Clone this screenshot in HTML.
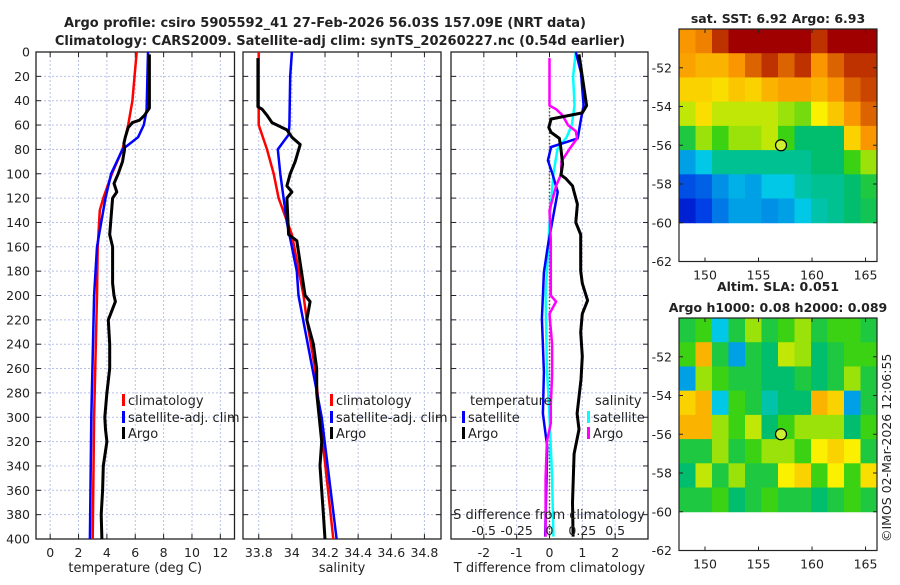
<!DOCTYPE html>
<html><head><meta charset="utf-8"><style>
body{margin:0;background:#fff}
svg text{font-family:"DejaVu Sans","Liberation Sans",sans-serif;fill:#222}
</style></head><body>
<svg id="c" width="900" height="580" xmlns="http://www.w3.org/2000/svg"></svg>
<script>
// ---- data ----
const tClimD=[0,40,60,80,100,120,130,140,160,200,300,400];
const tClimV=[6.1,5.8,5.5,5.1,4.35,3.75,3.5,3.45,3.35,3.3,3.1,3.0];
const tSatD=[0,48,60,70,80,100,120,140,160,200,300,400];
const tSatV=[6.9,6.8,6.6,6.2,5.1,4.3,3.9,3.6,3.3,3.1,2.9,2.8];
const tArgoD=[2,46,52,56,58,62,70,75,80,90,100,108,115,120,150,160,190,200,205,220,240,260,280,300,310,320,340,360,380,400];
const tArgoV=[7.0,7.0,6.65,6.3,5.8,5.5,5.3,5.2,5.25,5.1,4.8,4.5,4.7,4.4,4.2,4.4,4.4,4.5,4.6,4.1,4.2,4.2,4.0,3.85,3.9,4.0,3.75,3.7,3.6,3.65];
const sClimD=[0,60,80,100,120,150,200,220,260,300,350,400];
const sClimV=[33.8,33.8,33.85,33.89,33.92,34.0,34.07,34.09,34.14,34.17,34.21,34.25];
const sSatD=[0,20,60,68,80,100,140,180,200,300,400];
const sSatV=[34.0,33.99,33.985,33.98,33.915,33.93,33.97,34.03,34.04,34.18,34.27];
const sArgoD=[5,45,47,52,58,64,70,76,90,100,110,115,120,150,155,200,205,220,240,260,280,320,340,380,400];
const sArgoV=[33.795,33.795,33.82,33.85,33.88,33.97,34.0,34.05,34.02,33.99,33.97,34.0,33.97,33.98,34.03,34.08,34.11,34.09,34.13,34.15,34.15,34.18,34.17,34.19,34.2];
const dTSatD=[0,17,44,55,71,78,89,101,115,131,159,181,219,263,297,324,398];
const dTSatV=[0.8,0.96,1.04,0.96,0.86,0.05,-0.05,0.1,0.25,0.14,-0.05,-0.17,-0.23,-0.17,-0.2,-0.07,-0.13];
const dTArgoD=[2,44,50,55,62,66,71,80,92,101,104,110,115,125,140,150,165,180,190,204,215,230,250,269,297,310,330,370,398];
const dTArgoV=[0.9,1.13,1.0,0.05,-0.02,0.05,0.3,0.35,0.4,0.35,0.5,0.7,0.75,0.85,0.8,0.95,0.95,0.95,1.0,1.16,1.0,0.95,1.0,0.96,0.84,0.9,0.75,0.7,0.72];
const dSArgoD=[5,44,47,52,60,65,71,80,90,100,110,130,155,200,205,215,240,265,290,305,320,350,398];
const dSArgoV=[0,0,0.05,0.1,0.14,0.2,0.21,0.15,0.09,0.09,0.05,0,0.01,0.01,0.05,0,0.02,0.02,0.01,0.01,-0.02,-0.03,-0.03];
const dSSatD=[0,20,44,60,70,80,100,140,160,200,260,300,350,398];
const dSSatV=[0.2,0.18,0.19,0.17,0.13,0.06,0.03,0,-0.01,-0.03,-0.02,0,0.02,0.03];
const depthTicks=[0,20,40,60,80,100,120,140,160,180,200,220,240,260,280,300,320,340,360,380,400];
const tTicks=[0,2,4,6,8,10,12];
const sTicks=[33.8,34,34.2,34.4,34.6,34.8];
const dTTicks=[-2,-1,0,1,2];
const dSTicks=[-0.5,-0.25,0,0.25,0.5];
const lonTicks=[150,155,160,165];
const latTicks=[-52,-54,-56,-58,-60,-62];
const sstGrid=[
[0.8,0.82,0.9,0.95,0.95,0.95,0.95,0.95,0.9,0.95,0.95,0.95],
[0.78,0.75,0.75,0.8,0.85,0.9,0.85,0.9,0.8,0.85,0.9,0.9],
[0.7,0.7,0.68,0.72,0.7,0.75,0.78,0.78,0.75,0.8,0.85,0.88],
[0.62,0.68,0.62,0.62,0.62,0.62,0.6,0.58,0.65,0.72,0.8,0.85],
[0.5,0.6,0.55,0.6,0.6,0.62,0.55,0.45,0.45,0.45,0.7,0.8],
[0.3,0.35,0.42,0.42,0.42,0.42,0.42,0.42,0.45,0.45,0.55,0.6],
[0.2,0.22,0.28,0.32,0.3,0.35,0.35,0.4,0.42,0.42,0.45,0.5],
[0.12,0.18,0.25,0.3,0.3,0.28,0.3,0.35,0.4,0.42,0.45,0.48]];
const slaGrid=[
[0.5,0.55,0.35,0.5,0.6,0.5,0.55,0.6,0.5,0.55,0.55,0.5],
[0.55,0.75,0.5,0.3,0.5,0.45,0.62,0.6,0.45,0.5,0.55,0.55],
[0.3,0.6,0.55,0.5,0.5,0.45,0.45,0.5,0.45,0.5,0.6,0.5],
[0.7,0.75,0.35,0.55,0.5,0.4,0.45,0.45,0.75,0.7,0.3,0.5],
[0.75,0.75,0.6,0.55,0.62,0.45,0.55,0.6,0.6,0.6,0.45,0.55],
[0.5,0.5,0.6,0.5,0.55,0.6,0.6,0.55,0.65,0.7,0.65,0.5],
[0.45,0.62,0.5,0.6,0.5,0.5,0.65,0.7,0.55,0.65,0.55,0.68],
[0.5,0.5,0.55,0.45,0.5,0.55,0.5,0.5,0.45,0.5,0.55,0.5]];
const argoLon=157.1, argoLat=-56.0;

// ---- helpers ----
const svg=document.getElementById('c');const NS='http://www.w3.org/2000/svg';
function mk(tag,attrs,parent){const e=document.createElementNS(NS,tag);for(const k in attrs)e.setAttribute(k,attrs[k]);(parent||svg).appendChild(e);return e;}
function txt(s,x,y,attrs){const e=mk('text',Object.assign({x:x,y:y},attrs||{}));e.textContent=s;return e;}
const Y0=52,Y1=539;
const yD=d=>Y0+d*(Y1-Y0)/400;
function lin(d0,d1,r0,r1){return v=>r0+(v-d0)*(r1-r0)/(d1-d0);}

function panel(name,x0,x1,xs,ticks,fmt,label){
  const g=mk('g',{});
  ticks.forEach(t=>{mk('line',{x1:xs(t),x2:xs(t),y1:Y0,y2:Y1,stroke:'#b8c0e8','stroke-dasharray':'2,2','stroke-width':1},g);});
  depthTicks.forEach(d=>{mk('line',{x1:x0,x2:x1,y1:yD(d),y2:yD(d),stroke:'#b8c0e8','stroke-dasharray':'2,2','stroke-width':1},g);
    mk('line',{x1:x0,x2:x0+5,y1:yD(d),y2:yD(d),stroke:'#222'},g);mk('line',{x1:x1-5,x2:x1,y1:yD(d),y2:yD(d),stroke:'#222'},g);});
  ticks.forEach(t=>{mk('line',{x1:xs(t),x2:xs(t),y1:Y1,y2:Y1-5,stroke:'#222'},g);mk('line',{x1:xs(t),x2:xs(t),y1:Y0,y2:Y0+5,stroke:'#222'},g);
    if(fmt){const e=txt(fmt(t),xs(t),557,{'font-size':12.5,'text-anchor':'middle'});g.appendChild(e);}});
  mk('rect',{x:x0,y:Y0,width:x1-x0,height:Y1-Y0,fill:'none',stroke:'#222','stroke-width':1.3},g);
  if(label){const e=txt(label,(x0+x1)/2,572,{'font-size':13,'text-anchor':'middle'});g.appendChild(e);}
  return g;
}
function line(name,D,V,xs,color,w,g){
  const p=D.map((d,i)=>xs(V[i]).toFixed(1)+','+yD(d).toFixed(1)).join(' ');
  const e=mk('polyline',{points:p,fill:'none',stroke:color,'stroke-width':w,'stroke-linejoin':'round'},g);
  
}
function legendItem(x,y,color,label,g){
  mk('rect',{x:x,y:y-11,width:3,height:12,fill:color},g);
  const e=txt(label,x+6,y,{'font-size':13});g.appendChild(e);
}

// titles
let t=txt('Argo profile: csiro 5905592_41 27-Feb-2026 56.03S 157.09E (NRT data)',325,27,{'font-size':13,'font-weight':'bold','text-anchor':'middle'});

t=txt('Climatology: CARS2009. Satellite-adj clim: synTS_20260227.nc (0.54d earlier)',340,45,{'font-size':13,'font-weight':'bold','text-anchor':'middle'});


// depth tick labels
depthTicks.forEach(d=>{const e=txt(String(d),30,yD(d)+4.5,{'font-size':12.5,'text-anchor':'end'});});

// panel 1 temperature
const xT=lin(-1,13,36,234.5);
let g1=panel('temperature-panel',36,234.5,xT,tTicks,v=>String(v),'temperature (deg C)');
line('temp-climatology-line',tClimD,tClimV,xT,'#f00',2.5,g1);
line('temp-satellite-line',tSatD,tSatV,xT,'#00f',2.5,g1);
line('temp-argo-line',tArgoD,tArgoV,xT,'#000',3,g1);
legendItem(122,405,'#f00','climatology',g1);legendItem(122,422,'#00f','satellite-adj. clim',g1);legendItem(122,438,'#000','Argo',g1);

// panel 2 salinity
const xS=lin(33.705,34.9,243,441);
let g2=panel('salinity-panel',243,441,xS,sTicks,v=>String(v),'salinity');
line('sal-climatology-line',sClimD,sClimV,xS,'#f00',2.5,g2);
line('sal-satellite-line',sSatD,sSatV,xS,'#00f',2.5,g2);
line('sal-argo-line',sArgoD,sArgoV,xS,'#000',3,g2);
legendItem(330,405,'#f00','climatology',g2);legendItem(330,422,'#00f','satellite-adj. clim',g2);legendItem(330,438,'#000','Argo',g2);

// panel 3 differences
const xDT=lin(-3,3,451,648);const xDS=lin(-0.75,0.75,451,648);
let g3=panel('difference-panel',451,648,xDT,dTTicks,v=>String(v),'T difference from climatology');
mk('line',{x1:xDT(0),x2:xDT(0),y1:yD(40),y2:Y1,stroke:'#445533','stroke-dasharray':'1.5,2','stroke-width':1.5},g3);
line('sdiff-satellite-line',dSSatD,dSSatV,xDS,'#0ff',2.5,g3);
line('tdiff-satellite-line',dTSatD,dTSatV,xDT,'#00f',2.5,g3);
line('sdiff-argo-line',dSArgoD,dSArgoV,xDS,'#f0f',2.5,g3);
line('tdiff-argo-line',dTArgoD,dTArgoV,xDT,'#000',3,g3);
t=txt('S difference from climatology',549,519,{'font-size':13,'text-anchor':'middle'});
dSTicks.forEach(v=>{const e=txt(String(v),xDS(v),535,{'font-size':12.5,'text-anchor':'middle'});});
t=txt('temperature',470,405,{'font-size':13});
t=txt('salinity',595,405,{'font-size':13});
legendItem(462,422,'#00f','satellite',g3);legendItem(462,438,'#000','Argo',g3);
legendItem(587,422,'#0ff','satellite',g3);legendItem(587,438,'#f0f','Argo',g3);

// maps
function jet(v){v=Math.max(0,Math.min(1,v));
  const stops=[[0,[0,0,140]],[0.15,[0,40,230]],[0.35,[0,200,230]],[0.45,[0,190,110]],[0.55,[60,210,20]],[0.65,[250,240,0]],[0.8,[250,150,0]],[0.95,[160,0,0]],[1,[140,0,0]]];
  for(let i=1;i<stops.length;i++){if(v<=stops[i][0]){const a=stops[i-1],b=stops[i],f=(v-a[0])/(b[0]-a[0]);
    return 'rgb('+a[1].map((c,j)=>Math.round(c+(b[1][j]-c)*f)).join(',')+')';}}return 'rgb(140,0,0)';}
function map(name,top,grid,title1,title2){
  const g=mk('g',{});
  const bottom=top+232.5;const xL=lin(147.57,166.07,679,877);const yL=lin(-50,-62,top,bottom);
  const rows=grid.length,cols=grid[0].length,dLon=(166.07-147.57)/cols,dLat=10/rows;
  grid.forEach((r,i)=>r.forEach((v,j)=>{const x=xL(147.57+j*dLon),y=yL(-50-i*dLat);
    const c=mk('rect',{x:x,y:y,width:xL(147.57+(j+1)*dLon)-x+0.5,height:yL(-50-(i+1)*dLat)-y+0.5,fill:jet(v)},g);
    }));
  mk('rect',{x:679,y:top,width:198,height:bottom-top,fill:'none',stroke:'#222','stroke-width':1.2},g);
  lonTicks.forEach(l=>{mk('line',{x1:xL(l),x2:xL(l),y1:bottom,y2:bottom-4,stroke:'#222'},g);mk('line',{x1:xL(l),x2:xL(l),y1:top,y2:top+4,stroke:'#222'},g);
    const e=txt(String(l),xL(l),bottom+18,{'font-size':12.5,'text-anchor':'middle'});g.appendChild(e);});
  latTicks.forEach(l=>{mk('line',{x1:679,x2:683,y1:yL(l),y2:yL(l),stroke:'#222'},g);mk('line',{x1:873,x2:877,y1:yL(l),y2:yL(l),stroke:'#222'},g);
    const e=txt(String(l),672,yL(l)+4.5,{'font-size':12.5,'text-anchor':'end'});g.appendChild(e);});
  const m=mk('circle',{cx:xL(argoLon),cy:yL(argoLat),r:5.5,fill:'#ccee33',stroke:'#000','stroke-width':1.2},g);
  
  let e=txt(title1,778,top-(title2?27:6),{'font-size':12.5,'font-weight':'bold','text-anchor':'middle'});g.appendChild(e);
  if(title2){e=txt(title2,778,top-6,{'font-size':12.5,'font-weight':'bold','text-anchor':'middle'});g.appendChild(e);}
}
map('sst-map',29,sstGrid,'sat. SST: 6.92 Argo: 6.93');
map('sla-map',318,slaGrid,'Altim. SLA: 0.051','Argo h1000: 0.08 h2000: 0.089');
t=txt('©IMOS 02-Mar-2026 12:06:55',0,0,{'font-size':12.5,transform:'translate(891,542) rotate(-90)'});

</script>
</body></html>
